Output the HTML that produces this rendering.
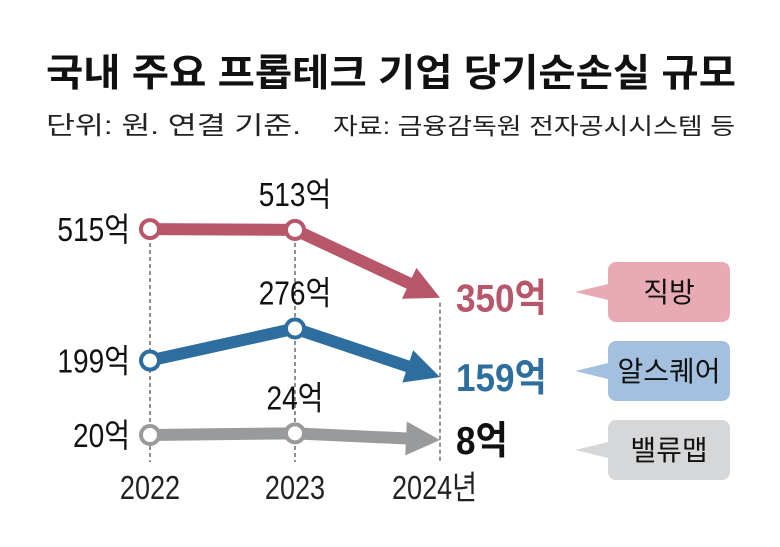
<!DOCTYPE html>
<html><head><meta charset="utf-8"><style>
body{margin:0;background:#fff;width:780px;height:542px;overflow:hidden;font-family:"Liberation Sans","Noto Sans CJK KR",sans-serif}
</style></head><body>
<svg width="780" height="542" id="c" style="font-family:'Liberation Sans','Noto Sans CJK KR',sans-serif">
<text x="46" y="86" font-size="38" font-weight="bold" fill="#111" textLength="690" lengthAdjust="spacingAndGlyphs">국내 주요 프롭테크 기업 당기순손실 규모</text>
<text x="46" y="134" font-size="25" fill="#222" textLength="255" lengthAdjust="spacingAndGlyphs">단위: 원. 연결 기준.</text>
<text x="333" y="134" font-size="23" fill="#222" textLength="402" lengthAdjust="spacingAndGlyphs">자료: 금융감독원 전자공시시스템 등</text>
</svg>
<script>
const years=["2022","2023","2024년"];
const names=["직방","알스퀘어","밸류맵"];
const s0=[515,513,350];
const s1=[199,276,159];
const s2=[20,24,8];
const series=[s0,s1,s2];
const colors=["#b8566a","#2e6e9e","#999a9c"];
const boxColors=["#e8aab5","#a3c1df","#d6d7d9"];
const lastColors=["#b8566a","#2e6e9e","#111"];
const X=i=>150+i*145;
const Y=v=>435-(v-20)*0.416;
const svg=document.getElementById('c');
const NS="http://www.w3.org/2000/svg";
function mk(t,a){const e=document.createElementNS(NS,t);for(const k in a)e.setAttribute(k,a[k]);svg.appendChild(e);return e;}
years.forEach((y,i)=>{
 const l=mk('line',{x1:X(i),x2:X(i),y1:i==2?Y(series[0][2])+5:229,y2:462,stroke:'#222','stroke-width':1,'stroke-dasharray':'4,3'});
 
 
 const xx=i==2?X(i)-48:X(i);
 const t=mk('text',{x:xx,y:499,'font-size':33,'text-anchor':i==2?'start':'middle',fill:'#222',transform:`translate(${xx},0) scale(0.82,1) translate(${-xx},0)`});
 t.textContent=y;
 
 
});
series.forEach((s,k)=>{
 const c=colors[k];
 const p=mk('path',{d:`M${X(0)},${Y(s[0])} L${X(1)},${Y(s[1])} L${X(2)-30},${Y(s[2])-(Y(s[2])-Y(s[1]))*30/145}`,stroke:c,'stroke-width':12,fill:'none','stroke-linejoin':'round'});
 
 
 const ang=Math.atan2(Y(s[2])-Y(s[1]),145);
 const tx=X(2),ty=Y(s[2]);
 const bx=tx-34*Math.cos(ang),by=ty-34*Math.sin(ang);
 const px=-Math.sin(ang)*17,py=Math.cos(ang)*17;
 const a=mk('polygon',{points:`${tx},${ty} ${bx+px},${by+py} ${bx-px},${by-py}`,fill:c});
 
 
 [0,1].forEach(i=>{
  const ci=mk('circle',{cx:X(i),cy:Y(s[i]),r:9,fill:'#fff',stroke:c,'stroke-width':4});
  
  
 });
 const t0=mk('text',{x:130,y:Y(s[0])+12,'font-size':33,'text-anchor':'end',fill:'#111',transform:'translate(130,0) scale(0.85,1) translate(-130,0)'});
 t0.textContent=s[0]+'억';
 
 
 const t1=mk('text',{x:X(1),y:Y(s[1])-24,'font-size':33,'text-anchor':'middle',fill:'#111',transform:`translate(${X(1)},0) scale(0.85,1) translate(${-X(1)},0)`});
 t1.textContent=s[1]+'억';
 
 
 const t2=mk('text',{x:456,y:Y(s[2])+14,'font-size':39,'font-weight':'bold',fill:lastColors[k],transform:'translate(456,0) scale(0.9,1) translate(-456,0)'});
 t2.textContent=s[2]+'억';
 
 
 const by0=262+k*79;
 const b=mk('path',{d:`M616,${by0} h106 a8,8 0 0 1 8,8 v44 a8,8 0 0 1 -8,8 h-106 a8,8 0 0 1 -8,-8 v-14 l-33,-8 l33,-8 v-14 a8,8 0 0 1 8,-8z`,fill:boxColors[k]});
 
 
 const bt=mk('text',{x:669,y:by0+40,'font-size':28,'text-anchor':'middle',fill:'#111'});
 bt.textContent=names[k];
 
 
});
</script>
</body></html>
